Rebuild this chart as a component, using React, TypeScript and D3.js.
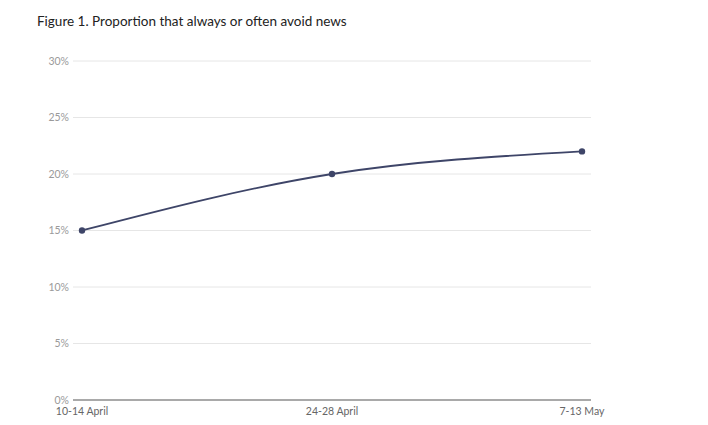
import * as d3 from "d3";

const periods = ["10-14 April", "24-28 April", "7-13 May"];
const avoidShare = [15, 20, 22];
const yTicks = [0, 5, 10, 15, 20, 25, 30];

const width = 708;
const height = 425;

export default function App() {
  const x = d3.scalePoint<string>().domain(periods).range([82, 582]);
  const y = d3.scaleLinear().domain([0, 30]).range([400, 61]);

  const line = d3
    .line<number>()
    .x((_, i) => x(periods[i])!)
    .y((d) => y(d))
    .curve(d3.curveMonotoneX);

  return (
    <svg
      width={width}
      height={height}
      style={{ position: "absolute", left: 0, top: 0, background: "#fff" }}
      fontFamily="Lato, 'Open Sans', sans-serif"
    >
      <text x={37} y={26} fontSize={13.5} fill="#222">
        Figure 1. Proportion that always or often avoid news
      </text>

      {yTicks.map((t) => (
        <g key={t}>
          {t > 0 && (
            <line x1={73} x2={591} y1={y(t)} y2={y(t)} stroke="#e6e6e6" strokeWidth={1} />
          )}
          <text
            x={69}
            y={y(t)}
            dy="0.35em"
            textAnchor="end"
            fontSize={10.5}
            fill="#9a9a9a"
          >
            {t}%
          </text>
        </g>
      ))}

      <line x1={73} x2={591} y1={y(0)} y2={y(0)} stroke="#8c8c8c" strokeWidth={1.5} />

      {periods.map((p) => (
        <text key={p} x={x(p)} y={415} textAnchor="middle" fontSize={10.5} fill="#666">
          {p}
        </text>
      ))}

      <path d={line(avoidShare) ?? ""} fill="none" stroke="#3e4568" strokeWidth={1.8} />
      {avoidShare.map((v, i) => (
        <circle key={i} cx={x(periods[i])} cy={y(v)} r={3.2} fill="#3e4568" />
      ))}
    </svg>
  );
}
